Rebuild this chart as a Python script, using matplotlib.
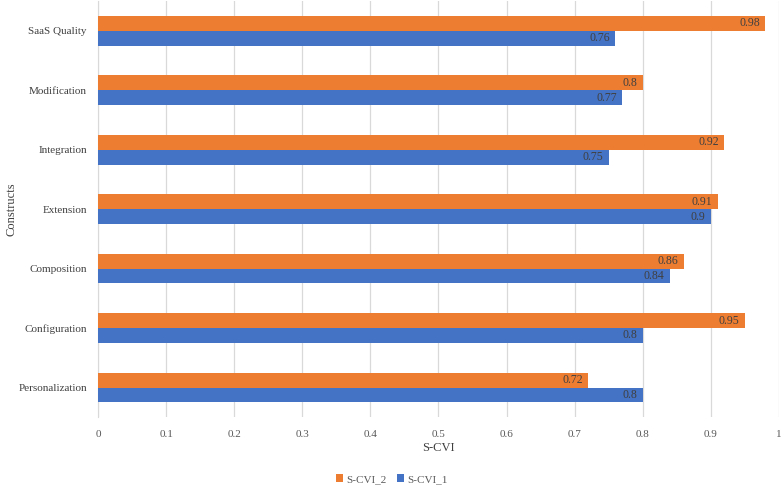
import numpy as np
import matplotlib
matplotlib.use('Agg')
import matplotlib.pyplot as plt

plt.rcParams['font.family'] = ['Liberation Serif', 'DejaVu Serif']

constructs = ['Personalization', 'Configuration', 'Composition', 'Extension',
              'Integration', 'Modification', 'SaaS Quality']
scvi_1 = [0.8, 0.8, 0.84, 0.9, 0.75, 0.77, 0.76]
scvi_2 = [0.72, 0.95, 0.86, 0.91, 0.92, 0.8, 0.98]
xticks = [0, 0.1, 0.2, 0.3, 0.4, 0.5, 0.6, 0.7, 0.8, 0.9, 1]

blue = '#4472C4'
orange = '#ED7D31'
grid_c = '#D9D9D9'
txt_c = '#595959'

fig = plt.figure(figsize=(7.84, 4.88), dpi=100)
ax = fig.add_axes([0.125, 0.145, 0.8685, 0.853])

y = np.arange(len(constructs))
h = 0.25
b1 = ax.barh(y - h / 2, scvi_1, height=h, color=blue, label='S-CVI_1', zorder=3)
b2 = ax.barh(y + h / 2, scvi_2, height=h, color=orange, label='S-CVI_2', zorder=3)

for bars, vals in [(b1, scvi_1), (b2, scvi_2)]:
    for bar, v in zip(bars, vals):
        ax.text(v - 0.008, bar.get_y() + bar.get_height() / 2, f'{v:g}',
                ha='right', va='center', fontsize=8.5, color='#404040', zorder=4)

ax.set_xlim(0, 1)
ax.set_ylim(-0.5, len(constructs) - 0.5)
ax.set_xticks(xticks)
ax.set_xticklabels([f'{t:g}' for t in xticks])
ax.set_yticks(y)
ax.set_yticklabels(constructs)
ax.tick_params(axis='both', length=0, labelsize=8, colors=txt_c)
ax.tick_params(axis='x', pad=9)
ax.tick_params(axis='y', pad=8)
for lab in ax.get_yticklabels():
    lab.set_color('#404040')

ax.grid(axis='x', color=grid_c, linewidth=0.9, zorder=0)
for s in ['top', 'right', 'bottom']:
    ax.spines[s].set_visible(False)
ax.spines['left'].set_color(grid_c)

ax.set_xlabel('S-CVI', fontsize=9, color='#404040', labelpad=2)
ax.set_ylabel('Constructs', fontsize=9, color='#404040')
ax.yaxis.set_label_coords(-0.118, 0.5)

handles = [b2, b1]
fig.legend(handles, ['S-CVI_2', 'S-CVI_1'], loc='center', bbox_to_anchor=(0.5, 0.018),
           ncol=2, frameon=False, fontsize=8, handlelength=0.6, handleheight=0.6,
           handletextpad=0.3, columnspacing=1.0, labelcolor=txt_c)

fig.savefig('out.png', dpi=100)
